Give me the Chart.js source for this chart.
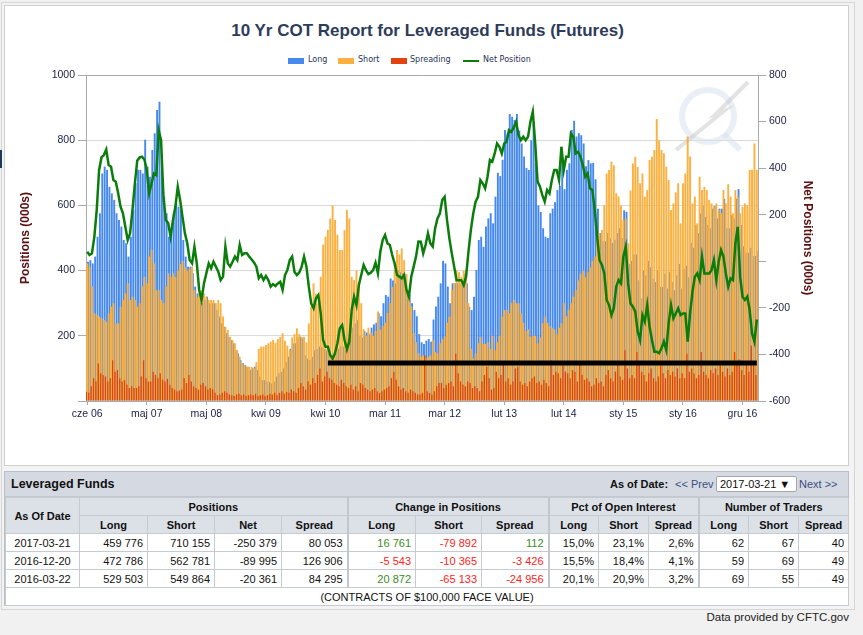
<!DOCTYPE html>
<html>
<head>
<meta charset="utf-8">
<script src="https://cdn.jsdelivr.net/npm/chart.js@4.4.1/dist/chart.umd.min.js"></script>
<style>
  body { margin: 0; width: 863px; height: 635px; background: #f1f1f1; position: relative; overflow: hidden; font-family: "Liberation Sans", Arial, sans-serif; }
  #frame { position: absolute; left: 1px; top: 2px; width: 852px; height: 606px; border: 1px solid #d6d6d6; background: #f3f3f3; }
  #edge { position: absolute; left: 0; top: 150px; width: 2px; height: 18px; background: #1f3a5a; }
  #panel { position: absolute; left: 4px; top: 5px; width: 843px; height: 459px; border: 1px solid #cfcfcf; background: #fff; }
  #chartBox { position: absolute; left: 0; top: 0; width: 855px; height: 432px; }
  #title { position: absolute; left: 0; top: 21px; width: 855px; text-align: center; font: bold 17px "Liberation Sans", Arial, sans-serif; color: #2d3c5a; }
  .lbox { position: absolute; top: 58px; width: 16px; height: 6px; }
  .ltxt { position: absolute; top: 55px; font: 8px "DejaVu Sans", sans-serif; color: #27345a; }
  #tpanel { position: absolute; left: 4px; top: 471px; width: 843px; height: 133px; border: 1px solid #b9bec8; background: #fff; }
  #tbar { position: relative; height: 24px; background: #d5dae2; border-bottom: 1px solid #c2c7d0; }
  #tbar span { position: absolute; top: 6px; font-size: 11px; color: #111; }
  #tab { border-collapse: collapse; table-layout: fixed; width: 843px; font-size: 11px; color: #111; }
  #tab td, #tab th { border: 1px solid #c6cad2; height: 17px; padding: 0 4px; white-space: nowrap; }
  #tab th { background: #dce0e7; font-weight: bold; text-align: center; }
  #tab td { text-align: right; }
  #tab td.d { text-align: center; }
  #tab .g { border-left: 2px solid #c2c6ce; }
  .pos { color: #3d8b1d; }
  .neg { color: #f22; }
  #credit { position: absolute; right: 14px; top: 611px; font-size: 11.5px; color: #222; }
</style>
</head>
<body>
<div id="frame"></div>
<div id="edge"></div>
<div id="panel"></div>
<div id="title">10 Yr COT Report for Leveraged Funds (Futures)</div>
<div class="lbox" style="left:288px;background:#4589ee"></div><div class="ltxt" style="left:308px">Long</div>
<div class="lbox" style="left:338px;background:#fbb03f"></div><div class="ltxt" style="left:358px">Short</div>
<div class="lbox" style="left:391px;background:#e2420e"></div><div class="ltxt" style="left:410px">Spreading</div>
<div class="lbox" style="left:463px;top:60px;height:2px;background:#0b7d0b"></div><div class="ltxt" style="left:483px">Net Position</div>
<canvas id="chartBox" width="855" height="432"></canvas>

<div id="tpanel">
  <div id="tbar">
    <span style="left:6px;top:5px;font-weight:bold;font-size:12.5px">Leveraged Funds</span>
    <span style="left:605px;font-weight:bold">As of Date:</span>
    <span style="left:670px;color:#3a4f80">&lt;&lt; Prev</span>
    <span style="left:711px;top:4px;width:76px;height:14px;line-height:14px;border:1px solid #a7a7a7;border-radius:2px;background:#fff;padding-left:3px">2017-03-21 &#9660;</span>
    <span style="left:794px;color:#3a4f80">Next &gt;&gt;</span>
  </div>
  <table id="tab">
    <colgroup>
      <col style="width:74px"><col style="width:68px"><col style="width:67px"><col style="width:67px"><col style="width:66px">
      <col style="width:68px"><col style="width:66px"><col style="width:67px">
      <col style="width:50px"><col style="width:50px"><col style="width:50px">
      <col style="width:50px"><col style="width:50px"><col style="width:50px">
    </colgroup>
    <tr><th rowspan="2">As Of Date</th><th colspan="4">Positions</th><th colspan="3" class="g">Change in Positions</th><th colspan="3" class="g">Pct of Open Interest</th><th colspan="3" class="g">Number of Traders</th></tr>
    <tr><th>Long</th><th>Short</th><th>Net</th><th>Spread</th><th class="g">Long</th><th>Short</th><th>Spread</th><th class="g">Long</th><th>Short</th><th>Spread</th><th class="g">Long</th><th>Short</th><th>Spread</th></tr>
    <tr><td class="d">2017-03-21</td><td>459 776</td><td>710 155</td><td>-250 379</td><td>80 053</td><td class="g pos">16 761</td><td class="neg">-79 892</td><td class="pos">112</td><td class="g">15,0%</td><td>23,1%</td><td>2,6%</td><td class="g">62</td><td>67</td><td>40</td></tr>
    <tr><td class="d">2016-12-20</td><td>472 786</td><td>562 781</td><td>-89 995</td><td>126 906</td><td class="g neg">-5 543</td><td class="neg">-10 365</td><td class="neg">-3 426</td><td class="g">15,5%</td><td>18,4%</td><td>4,1%</td><td class="g">59</td><td>69</td><td>49</td></tr>
    <tr><td class="d">2016-03-22</td><td>529 503</td><td>549 864</td><td>-20 361</td><td>84 295</td><td class="g pos">20 872</td><td class="neg">-65 133</td><td class="neg">-24 956</td><td class="g">20,1%</td><td>20,9%</td><td>3,2%</td><td class="g">69</td><td>55</td><td>49</td></tr>
    <tr><td colspan="14" class="d">(CONTRACTS OF $100,000 FACE VALUE)</td></tr>
  </table>
</div>
<div id="credit">Data provided by CFTC.gov</div>

<script>
// positions in thousands of contracts, one value every two weeks from Jun 2006
const longPos = [427,432,422,443,504,576,698,719,709,657,637,617,576,555,535,494,484,443,504,586,
  668,709,709,698,801,719,688,770,821,893,918,709,627,576,504,525,576,606,596,586,
  494,443,412,412,392,351,330,320,300,310,320,300,300,300,279,259,238,228,208,197,
  187,177,156,146,126,116,110,105,95,100,105,
  95,75,64,64,60,58,54,60,75,85,90,100,120,136,160,177,177,195,197,192,
  140,130,126,136,156,160,167,165,160,155,146,136,140,146,160,167,167,156,190,210,
  225,238,248,200,195,215,210,205,225,235,240,269,260,300,325,320,376,370,361,402,
  395,392,361,340,325,300,279,260,205,
  180,175,185,190,182,250,290,320,361,430,422,351,300,361,361,361,361,361,390,361,
  289,279,320,402,494,504,473,535,560,576,545,627,700,690,740,831,820,880,872,862,
  880,830,790,750,715,709,800,852,730,600,580,530,504,500,576,590,610,647,660,739,
  650,709,729,831,860,811,821,815,790,720,739,
  729,730,680,590,515,490,490,515,500,485,495,515,530,500,585,580,420,430,450,450,
  370,315,400,385,430,410,375,365,400,350,350,390,345,395,365,340,385,420,345,405,
  415,380,485,470,540,515,575,600,565,540,530,590,598,560,590,590,620,530,530,570,
  560,620,650,540,475,455,455,470,445,445,460];

const shortPos = [422,412,351,269,264,259,254,248,243,269,289,300,238,238,289,310,330,361,310,320,
  310,289,300,351,381,361,443,463,422,340,340,310,300,351,392,381,392,380,400,420,
  430,410,400,407,412,340,320,330,340,330,320,310,310,310,300,310,300,259,228,218,
  197,187,177,156,136,116,110,105,105,105,100,
  120,160,167,167,172,177,182,187,178,190,197,208,185,170,156,195,205,223,205,197,
  197,180,238,290,361,330,300,381,480,504,525,560,600,555,510,463,463,524,586,560,
  381,371,400,361,300,220,200,225,210,200,215,275,219,230,240,270,300,350,402,463,
  450,468,432,390,320,290,208,180,146,
  136,140,132,136,140,187,150,146,177,190,197,240,259,340,361,402,395,381,400,402,
  300,160,130,146,177,197,175,175,180,160,200,156,180,200,259,279,279,270,300,310,
  300,300,269,240,215,220,197,200,200,177,195,238,259,240,230,225,220,205,225,238,
  300,260,280,300,320,340,370,390,400,380,395,
  410,430,443,504,514,525,600,698,709,734,723,637,627,600,555,560,484,646,729,749,
  718,668,698,627,647,739,749,770,865,800,770,760,719,678,586,606,640,668,545,668,
  698,811,750,606,627,545,688,647,657,647,617,606,596,606,586,576,647,606,665,627,
  576,647,627,576,596,606,600,709,709,790,709];

const spreadPos = [28,25,45,70,60,115,85,80,75,60,70,125,90,95,70,60,64,50,40,45,
  40,40,45,75,125,70,60,60,90,80,70,85,65,60,68,50,40,35,30,32,
  35,70,55,80,60,45,40,35,50,55,45,35,40,35,25,18,20,25,30,25,
  20,18,15,20,22,18,20,15,18,20,18,
  22,15,18,20,15,18,22,20,25,18,25,30,22,28,25,35,30,25,40,55,
  45,35,60,50,70,55,80,100,60,75,90,70,65,55,50,45,65,55,45,40,
  50,35,45,30,55,50,40,35,30,35,40,30,25,30,35,40,45,70,90,65,
  45,35,40,30,25,35,30,25,20,
  20,25,140,30,25,20,30,45,55,55,40,50,55,60,45,145,85,60,50,45,
  60,55,40,45,40,30,60,80,105,70,35,40,90,70,80,115,60,70,50,60,
  100,105,60,50,55,45,60,70,75,55,60,50,65,55,45,125,80,90,85,70,
  110,90,85,70,95,90,60,115,80,65,70,
  60,45,50,70,55,60,45,80,95,70,60,90,110,75,65,156,100,70,80,70,
  150,120,90,80,60,85,100,70,60,75,110,85,70,95,80,90,75,100,70,85,
  70,145,90,100,84,70,80,150,90,80,70,95,85,100,80,110,90,75,100,80,
  90,150,120,127,95,80,110,90,170,120,80];

const netPos = [41,27,34,105,220,392,446,456,480,413,406,349,342,292,234,206,148,91,120,220,
  334,432,446,449,437,392,292,334,377,370,563,520,277,177,163,105,177,234,320,263,
  191,120,77,5,-9,62,-9,-123,-166,-95,-52,-9,-30,-2,-23,-45,-81,-66,63,-9,
  -23,-2,20,5,70,27,34,34,20,8,-5,
  -23,-73,-59,-81,-63,-81,-109,-98,-106,-95,-88,-123,-59,-38,5,20,-46,-59,-48,-23,
  20,-23,-109,-181,-202,-159,-145,-224,-338,-367,-367,-403,-417,-395,-352,-288,-274,-338,-378,-345,
  -209,-152,-188,-102,-59,-16,-38,-55,-49,-38,-6,-52,41,91,113,77,70,27,-9,-59,
  -66,-73,-59,-123,-152,-66,-23,20,85,
  84,34,70,120,77,63,141,184,205,263,277,177,98,34,-23,-81,-81,-81,-102,-66,
  41,134,205,256,277,349,334,313,363,435,428,463,506,492,463,506,513,563,556,575,
  599,542,520,535,520,535,599,642,506,342,320,284,256,306,292,349,392,392,349,492,
  392,449,449,549,535,463,470,449,413,363,377,
  313,306,220,105,5,-16,-52,-166,-188,-231,-202,-109,-81,-95,20,63,-95,-181,-195,-216,
  -302,-338,-231,-259,-188,-281,-338,-388,-388,-395,-374,-345,-381,-267,-188,-245,-224,-202,-231,-224,
  -224,-345,-224,-131,-66,-52,-81,20,-52,-52,-52,-38,5,-81,-2,48,20,-52,-109,-73,
  -81,77,148,-66,-152,-166,-152,-209,-310,-345,-250];

const tickLabels = ['cze 06', 'maj 07', 'maj 08', 'kwi 09', 'kwi 10', 'mar 11', 'mar 12', 'lut 13', 'lut 14', 'sty 15', 'sty 16', 'gru 16'];
const tickStep = 25;

// the black level line drawn over the chart
const markerLevel = -437;
const markerFrom = 101;

const start = Date.UTC(2006, 5, 13);
const categories = longPos.map((v, i) => new Date(start + i * 14 * 864e5).toISOString().slice(0, 10));
const markerLine = categories.map((c, i) => i >= markerFrom ? markerLevel : null);

const tickFont = { family: 'Liberation Sans', size: 10.5 };
const tickColor = '#1d1d45';
const axisGrey = '#aaaaaa';

const watermark = {
  id: 'watermark',
  beforeDatasetsDraw(chart) {
    const ctx = chart.ctx;
    ctx.save();
    ctx.strokeStyle = 'rgba(215,225,236,0.55)';
    ctx.lineWidth = 6;
    ctx.beginPath();
    ctx.arc(708, 116, 26, 0, Math.PI * 2);
    ctx.stroke();
    ctx.beginPath();
    ctx.moveTo(724, 134);
    ctx.lineTo(740, 150);
    ctx.stroke();
    ctx.strokeStyle = 'rgba(200,200,200,0.5)';
    ctx.lineWidth = 4;
    ctx.beginPath();
    ctx.moveTo(748, 82);
    ctx.lineTo(716, 114);
    ctx.lineTo(724, 111);
    ctx.lineTo(676, 150);
    ctx.stroke();
    ctx.restore();
  }
};

const barCommon = { yAxisID: 'y', barPercentage: 2.4, categoryPercentage: 1, borderWidth: 0 };

const config = {
  type: 'bar',
  data: {
    labels: categories,
    datasets: [
      { type: 'line', label: 'Net Position', data: netPos, yAxisID: 'yNet', borderColor: '#0b7d0b', borderWidth: 2.5, pointRadius: 0, tension: 0, order: 0 },
      { type: 'line', label: 'Level', data: markerLine, yAxisID: 'yNet', borderColor: '#000000', borderWidth: 5, pointRadius: 0, tension: 0, order: 1 },
      Object.assign({}, barCommon, { label: 'Spreading', data: spreadPos, backgroundColor: '#e2420e', order: 2, barPercentage: 1.6 }),
      Object.assign({}, barCommon, { label: 'Short', data: shortPos, backgroundColor: '#fbb03f', order: 3 }),
      Object.assign({}, barCommon, { label: 'Long', data: longPos, backgroundColor: '#4589ee', order: 4 })
    ]
  },
  options: {
    responsive: false,
    animation: false,
    layout: { padding: { top: 75, left: 0, right: 0, bottom: 0 } },
    plugins: {
      legend: { display: false },
      tooltip: { enabled: false }
    },
    scales: {
      x: {
        grid: { drawOnChartArea: false, offset: false, tickLength: 4, tickColor: axisGrey },
        border: { color: axisGrey },
        ticks: {
          autoSkip: false, maxRotation: 0, padding: 3, font: tickFont, color: tickColor,
          callback: (v, i) => i % tickStep === 0 ? tickLabels[i / tickStep] : null
        },
        afterFit: s => { s.height = 31; }
      },
      y: {
        position: 'left',
        min: 0, max: 1000,
        ticks: { stepSize: 200, font: tickFont, color: tickColor, padding: 3, callback: v => v === 0 ? '' : v },
        grid: {
          tickLength: 8, tickColor: axisGrey,
          color: c => c.tick.value === 0 ? 'rgba(0,0,0,0)' : (c.tick.value === 1000 ? axisGrey : '#d9d9d9')
        },
        border: { color: axisGrey },
        title: { display: true, text: 'Positions (000s)', color: '#5c1010', font: { family: 'Liberation Sans', size: 12, weight: 'bold' }, padding: { top: 18, bottom: 0 } },
        afterFit: s => { s.width = 86; }
      },
      yNet: {
        position: 'right',
        min: -600, max: 800,
        ticks: { stepSize: 200, font: tickFont, color: tickColor, padding: 3, callback: v => v === 0 ? '' : v },
        grid: { drawOnChartArea: false, tickLength: 8, tickColor: axisGrey },
        border: { color: axisGrey },
        title: { display: true, text: 'Net Positions (000s)', color: '#5c1010', font: { family: 'Liberation Sans', size: 12, weight: 'bold' }, padding: { top: 40, bottom: 0 } },
        afterFit: s => { s.width = 97; }
      }
    }
  },
  plugins: [watermark]
};

const chartCot = new Chart(document.getElementById('chartBox'), config);
</script>
</body>
</html>
